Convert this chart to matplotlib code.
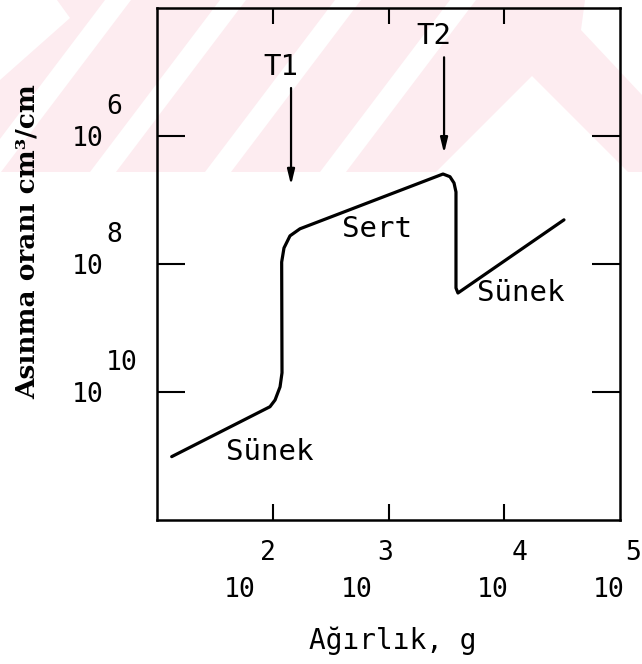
import matplotlib

matplotlib.use("Agg")
import matplotlib.pyplot as plt
import numpy as np
from matplotlib.patches import Polygon, Rectangle
from matplotlib.ticker import NullLocator

# wear curve, stored as log10 values: weight (g) and wear rate (cm3/cm)
weight_exp = [1.127, 1.976, 2.02, 2.063, 2.08, 2.077, 2.097, 2.149, 2.235,
              3.471, 3.531, 3.566, 3.583, 3.583, 3.60, 4.516]
rate_exp = [-11.01, -10.23, -10.125, -9.92, -9.70, -7.97, -7.75, -7.56, -7.45,
            -6.594, -6.636, -6.734, -6.875, -8.375, -8.453, -7.31]

xtick_exp = [2, 3, 4, 5]
ytick_exp = [-6, -8, -10]
ytick_sup = ["6", "8", "10"]

# transition loads: name, weight exponent, arrow tail / tip (rate exponent)
trans_names = ["T1", "T2"]
trans_weight = [2.158, 3.48]
trans_tail = [-5.25, -4.77]
trans_tip = [-6.766, -6.27]

# regime labels: text, weight exponent, rate exponent
regime_text = ["Sert", "Sünek", "Sünek"]
regime_weight = [2.90, 4.145, 1.976]
regime_rate = [-7.45, -8.45, -10.94]

W, H = 642, 664
MONO = "DejaVu Sans Mono"

fig = plt.figure(figsize=(W / 100, H / 100), dpi=100)
fig.patch.set_facecolor("white")


def px(x, y):
    return (x / W, 1 - y / H)


def add_shape(points, color, z):
    fig.patches.append(Polygon([px(*p) for p in points], closed=True,
                               transform=fig.transFigure, facecolor=color,
                               edgecolor="none", zorder=z))


# faint pink watermark band behind the upper part of the plot
pink = "#fdecf0"
fig.patches.append(Rectangle(px(0, 172), 1, 172 / H, transform=fig.transFigure,
                             facecolor=pink, edgecolor="none", zorder=-5))
shift, width = 130, 26
for b in [-25, 90, 205, 320]:
    add_shape([(b, 172), (b + width, 172), (b + width + shift, 0), (b + shift, 0)], "white", -4)
add_shape([(436, 172), (532, 76), (628, 172)], "white", -4)
add_shape([(0, 0), (57, 0), (70, 18), (0, 80)], "white", -4)
add_shape([(585, 0), (642, 0), (642, 95), (581, 30)], "white", -4)

ax = fig.add_axes([157 / W, 1 - 520 / H, 463 / W, 512 / H])
ax.set_zorder(1)
ax.set_facecolor("none")
ax.set_xscale("log")
ax.set_yscale("log")
ax.set_xlim(1e1, 1e5)
ax.set_ylim(1e-12, 1e-4)

x = 10 ** np.array(weight_exp)
y = 10 ** np.array(rate_exp)
ax.plot(x, y, color="black", lw=2.3, solid_joinstyle="round", solid_capstyle="round")

for sp in ax.spines.values():
    sp.set_linewidth(1.8)

ax.xaxis.set_minor_locator(NullLocator())
ax.yaxis.set_minor_locator(NullLocator())
ax.set_xticks([10.0 ** e for e in xtick_exp[:-1]])
ax.set_yticks([10.0 ** e for e in ytick_exp])
ax.set_xticklabels([])
ax.set_yticklabels([])
ax.tick_params(axis="x", direction="in", length=11.5, width=1.5, top=True, bottom=True)
ax.tick_params(axis="y", direction="in", length=20, width=1.5, left=True, right=True)

# tick labels drawn as plotter-style "10" with a raised exponent
x10_dx = [-33, -32, -12, -11]
xsup_dx = [-5, -3, 15, 13]
for e, d10, dsup in zip(xtick_exp, x10_dx, xsup_dx):
    ax.annotate("10", xy=(10.0 ** e, 1e-12), xytext=(d10, -70), textcoords="offset pixels",
                ha="center", va="center", family=MONO, fontsize=19, annotation_clip=False)
    ax.annotate(str(e), xy=(10.0 ** e, 1e-12), xytext=(dsup, -33), textcoords="offset pixels",
                ha="center", va="center", family=MONO, fontsize=19, annotation_clip=False)

for e, sup in zip(ytick_exp, ytick_sup):
    ax.annotate("10", xy=(1e1, 10.0 ** e), xytext=(-69, -3), textcoords="offset pixels",
                ha="center", va="center", family=MONO, fontsize=19, annotation_clip=False)
    ax.annotate(sup, xy=(1e1, 10.0 ** e), xytext=(-51, 29), textcoords="offset pixels",
                ha="left", va="center", family=MONO, fontsize=19, annotation_clip=False)

# transition arrows
for name, xe, t0, t1 in zip(trans_names, trans_weight, trans_tail, trans_tip):
    ax.annotate("", xy=(10 ** xe, 10 ** t1), xytext=(10 ** xe, 10 ** t0),
                arrowprops=dict(arrowstyle="-|>,head_length=0.9,head_width=0.22",
                                color="black", lw=1.6, shrinkA=0, shrinkB=0))
    ax.annotate(name, xy=(10 ** xe, 10 ** t0), xytext=(-10, 21), textcoords="offset pixels",
                ha="center", va="center", family=MONO, fontsize=21)

for txt, xe, ye in zip(regime_text, regime_weight, regime_rate):
    ax.text(10 ** xe, 10 ** ye, txt, ha="center", va="center", family=MONO, fontsize=21)

fig.text(*px(393, 641), "Ağırlık, g", ha="center", va="center", family=MONO, fontsize=20)
fig.text(*px(27, 242), "Asınma oranı cm³/cm", rotation=90, ha="center", va="center",
         family="DejaVu Serif", weight="bold", fontsize=19)

fig.savefig("out.png", dpi=100)
